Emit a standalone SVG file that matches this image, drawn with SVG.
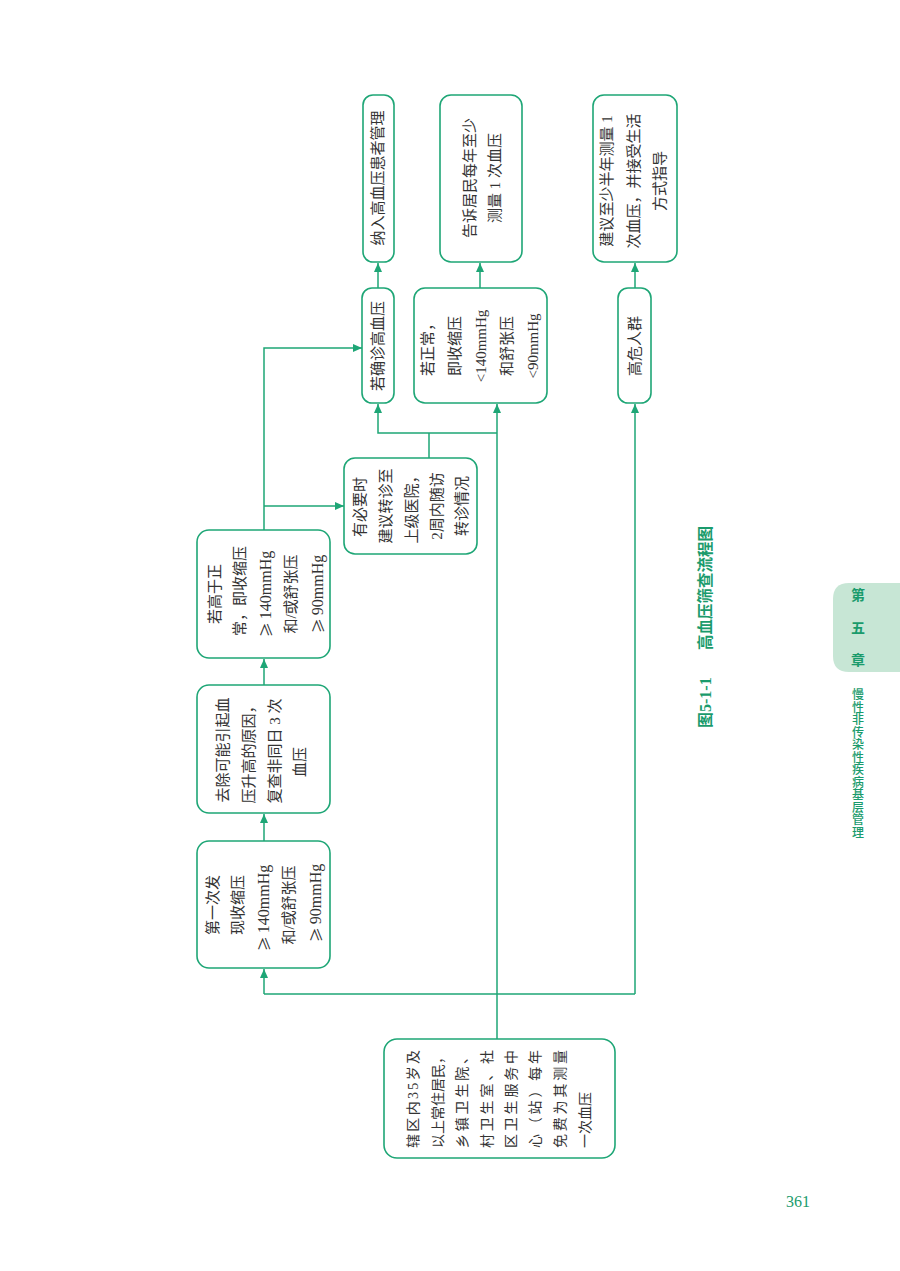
<svg xmlns="http://www.w3.org/2000/svg" width="900" height="1271" viewBox="0 0 900 1271">
<style>
.box{fill:#fff;stroke:#1ea676;stroke-width:1.6}
.ln{fill:none;stroke:#1ea676;stroke-width:1.5}
.t{font-family:"Liberation Serif","Noto Sans CJK SC",serif;font-size:15px;fill:#333;dominant-baseline:central}
.m{text-anchor:middle}
.s{text-anchor:start}
.t14{font-size:14px}
.cj{font-family:"Noto Sans CJK SC",sans-serif}
.g{font-family:"Liberation Serif","Noto Sans CJK SC",serif;fill:#1a9b6c;font-weight:bold}
</style>
<defs>
<marker id="ah" markerUnits="userSpaceOnUse" markerWidth="9" markerHeight="8" refX="9" refY="4" orient="auto">
<path d="M0,0 L9,4 L0,8 z" fill="#1ea676"/>
</marker>
</defs>
<rect width="900" height="1271" fill="#fff"/>

<g id="connectors">
<path class="ln" d="M497,1039 V404" marker-end="url(#ah)"/>
<path class="ln" d="M264,994 H635"/>
<path class="ln" d="M264,994 V969" marker-end="url(#ah)"/>
<path class="ln" d="M635,994 V404" marker-end="url(#ah)"/>
<path class="ln" d="M264,841 V814" marker-end="url(#ah)"/>
<path class="ln" d="M264,685 V659" marker-end="url(#ah)"/>
<path class="ln" d="M264,530 V348 H362" marker-end="url(#ah)"/>
<path class="ln" d="M264,506 H344" marker-end="url(#ah)"/>
<path class="ln" d="M429,458 V433"/>
<path class="ln" d="M497,433 H378 V404" marker-end="url(#ah)"/>
<path class="ln" d="M378,288 V263" marker-end="url(#ah)"/>
<path class="ln" d="M480,288 V263" marker-end="url(#ah)"/>
<path class="ln" d="M635,288 V263" marker-end="url(#ah)"/>
</g>

<g id="n_residents">
<rect class="box" x="384" y="1039" width="231" height="119" rx="13"/>
<text class="t t14 s" transform="translate(413,1148) rotate(-90)" textLength="98" lengthAdjust="spacing">辖区内35岁及</text>
<text class="t t14 s" transform="translate(438,1148) rotate(-90)" textLength="98" lengthAdjust="spacing">以上常住居民，</text>
<text class="t t14 s" transform="translate(462,1148) rotate(-90)" textLength="98" lengthAdjust="spacing">乡镇卫生院、</text>
<text class="t t14 s" transform="translate(487,1148) rotate(-90)" textLength="98" lengthAdjust="spacing">村卫生室、社</text>
<text class="t t14 s" transform="translate(511,1148) rotate(-90)" textLength="98" lengthAdjust="spacing">区卫生服务中</text>
<text class="t t14 s" transform="translate(535,1148) rotate(-90)" textLength="98" lengthAdjust="spacing">心（站）每年</text>
<text class="t t14 s" transform="translate(560,1148) rotate(-90)" textLength="98" lengthAdjust="spacing">免费为其测量</text>
<text class="t t14 s" transform="translate(585,1148) rotate(-90)">一次血压</text>
</g>

<g id="n_first">
<rect class="box" x="197" y="841" width="133" height="127" rx="12"/>
<text class="t m" transform="translate(213,905) rotate(-90)">第一次发</text>
<text class="t m" transform="translate(238,905) rotate(-90)">现收缩压</text>
<text class="t m" transform="translate(263,908) rotate(-90)"><tspan class="cj">≥</tspan><tspan dx="3" font-size="16">140mmHg</tspan></text>
<text class="t m" transform="translate(289,905) rotate(-90)">和/或舒张压</text>
<text class="t m" transform="translate(315,903) rotate(-90)"><tspan class="cj">≥</tspan><tspan dx="3" font-size="16">90mmHg</tspan></text>
</g>

<g id="n_recheck">
<rect class="box" x="197" y="685" width="133" height="128" rx="12"/>
<text class="t m" transform="translate(223,750) rotate(-90)">去除可能引起血</text>
<text class="t m" transform="translate(249,751) rotate(-90)">压升高的原因，</text>
<text class="t m" transform="translate(275,751) rotate(-90)">复查非同日 3 次</text>
<text class="t m" transform="translate(300,762) rotate(-90)">血压</text>
</g>

<g id="n_high">
<rect class="box" x="197" y="530" width="133" height="128" rx="12"/>
<text class="t m" transform="translate(215,594) rotate(-90)">若高于正</text>
<text class="t m" transform="translate(240,591) rotate(-90)">常，即收缩压</text>
<text class="t m" transform="translate(265,594) rotate(-90)"><tspan class="cj">≥</tspan><tspan dx="3" font-size="16">140mmHg</tspan></text>
<text class="t m" transform="translate(291,594) rotate(-90)">和/或舒张压</text>
<text class="t m" transform="translate(317,594) rotate(-90)"><tspan class="cj">≥</tspan><tspan dx="3" font-size="16">90mmHg</tspan></text>
</g>

<g id="n_referral">
<rect class="box" x="344" y="458" width="133" height="96" rx="11"/>
<text class="t m" transform="translate(360,507) rotate(-90)">有必要时</text>
<text class="t m" transform="translate(386,506) rotate(-90)">建议转诊至</text>
<text class="t m" transform="translate(412,506) rotate(-90)">上级医院，</text>
<text class="t m" transform="translate(437,506) rotate(-90)">2周内随访</text>
<text class="t m" transform="translate(462,506) rotate(-90)">转诊情况</text>
</g>

<g id="n_confirm">
<rect class="box" x="362" y="288" width="32" height="115" rx="10"/>
<text class="t m" transform="translate(378,346) rotate(-90)">若确诊高血压</text>
</g>

<g id="n_normal">
<rect class="box" x="414" y="288" width="133" height="115" rx="11"/>
<text class="t m" transform="translate(428,346) rotate(-90)">若正常，</text>
<text class="t m" transform="translate(455,346) rotate(-90)">即收缩压</text>
<text class="t m" transform="translate(481,346) rotate(-90)" font-size="16">&lt;140mmHg</text>
<text class="t m" transform="translate(507,346) rotate(-90)">和舒张压</text>
<text class="t m" transform="translate(533,346) rotate(-90)" font-size="16">&lt;90mmHg</text>
</g>

<g id="n_risk">
<rect class="box" x="618" y="288" width="33" height="115" rx="10"/>
<text class="t m" transform="translate(635,346) rotate(-90)">高危人群</text>
</g>

<g id="n_manage">
<rect class="box" x="363" y="95" width="31" height="167" rx="10"/>
<text class="t m" transform="translate(378,178) rotate(-90)">纳入高血压患者管理</text>
</g>

<g id="n_tell">
<rect class="box" x="440" y="95" width="82" height="167" rx="11"/>
<text class="t m" transform="translate(470,178) rotate(-90)">告诉居民每年至少</text>
<text class="t m" transform="translate(495,178) rotate(-90)">测量 1 次血压</text>
</g>

<g id="n_advise">
<rect class="box" x="593" y="95" width="84" height="167" rx="11"/>
<text class="t m" transform="translate(607,181) rotate(-90)">建议至少半年测量 1</text>
<text class="t m" transform="translate(634,181) rotate(-90)">次血压，并接受生活</text>
<text class="t m" transform="translate(660,181) rotate(-90)">方式指导</text>
</g>

<g id="caption">
<text class="g" font-size="15.5" dominant-baseline="central" transform="translate(705,728) rotate(-90)"><tspan font-size="16">图5-1-1</tspan><tspan x="78">高血压筛查流程图</tspan></text>
</g>

<g id="side-tab">
<path d="M900,583 H849 Q833,583 833,599 V656 Q833,672 849,672 H900 Z" fill="#c7e6d5"/>
<text class="g" font-size="14" x="858" y="600" text-anchor="middle">第</text>
<text class="g" font-size="14" x="858" y="633" text-anchor="middle">五</text>
<text class="g" font-size="14" x="858" y="665" text-anchor="middle">章</text>
<text class="g" font-size="12" text-anchor="middle" style="font-weight:500"><tspan x="858" y="699">慢</tspan><tspan x="858" y="711.5">性</tspan><tspan x="858" y="724">非</tspan><tspan x="858" y="736.5">传</tspan><tspan x="858" y="749">染</tspan><tspan x="858" y="761.5">性</tspan><tspan x="858" y="774">疾</tspan><tspan x="858" y="786.5">病</tspan><tspan x="858" y="799">基</tspan><tspan x="858" y="811.5">层</tspan><tspan x="858" y="824">管</tspan><tspan x="858" y="836.5">理</tspan></text>
</g>

<text class="g" font-size="16" x="798" y="1207" text-anchor="middle" style="font-weight:normal">361</text>
</svg>
